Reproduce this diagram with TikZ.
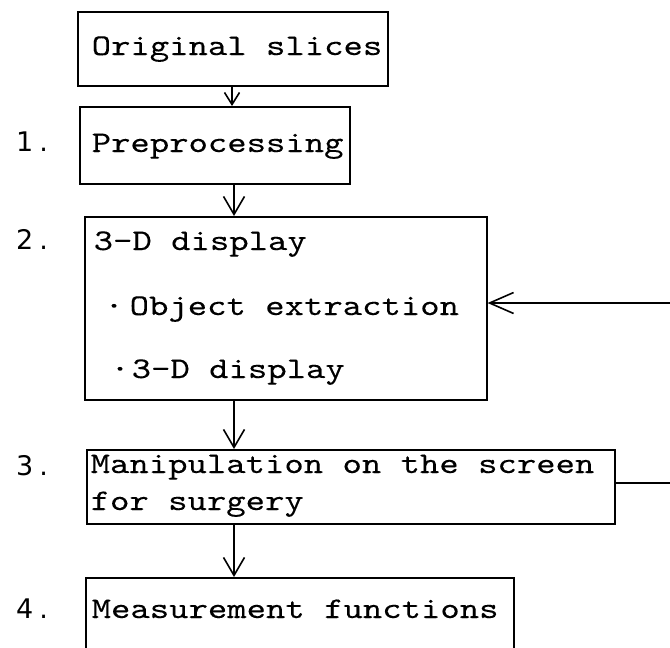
\documentclass[tikz,border=0pt]{standalone}
\usepackage{fontspec}
\usetikzlibrary{arrows.meta}
\newfontfamily\twfont[FakeStretch=1.23,FakeBold=0.12]{lmmono10-regular.otf}
\newfontfamily\numfont{DejaVu Sans}
\begin{document}
\begin{tikzpicture}[x=1pt,y=-1pt,
  box/.style={draw,line width=1.6pt,rectangle,inner sep=0pt,anchor=north west},
  txt/.style={anchor=base west,inner sep=0pt,font=\twfont\fontsize{30}{36}\selectfont},
  num/.style={anchor=base west,inner sep=0pt,font=\numfont\fontsize{27}{32}\selectfont},
  arrs/.style={line width=1.6pt,-{Straight Barb[length=12pt,width=15pt,line width=1.6pt]}},
  arrm/.style={line width=1.6pt,-{Straight Barb[length=18pt,width=21pt,line width=1.6pt]}},
  arrl/.style={line width=1.6pt,-{Straight Barb[length=24pt,width=21pt,line width=1.6pt]}}]
\clip (0,0) rectangle (670,648);
\fill[white] (0,0) rectangle (670,648);
% boxes
\node[box,minimum width=310pt,minimum height=74pt] (b0) at (77,11) {};
\node[box,minimum width=270pt,minimum height=77pt] (b1) at (79,106) {};
\node[box,minimum width=402pt,minimum height=183pt] (b2) at (84,216) {};
\node[box,minimum width=528pt,minimum height=74pt] (b3) at (86,449) {};
\node[box,minimum width=428pt,minimum height=110pt] (b4) at (85,577) {};
% texts
\node[txt] (t0) at (91.5,55) {Original slices};
\node[txt] (t1) at (91.5,152) {Preprocessing};
\node[txt] (t2a) at (93.5,250) {3-D display};
\node[txt] (t2b) at (129.5,315) {\llap{·\hspace{6pt}}Object extraction};
\node[txt] (t2c) at (131.5,378) {\llap{·\hspace{2pt}}3-D display};
\node[txt] (t3a) at (90.5,473) {Manipulation on the screen};
\node[txt] (t3b) at (90.5,510) {for surgery};
\node[txt] (t4) at (91.5,618) {Measurement functions};
% numbers
\node[num] (n1) at (16,151) {1\hspace{6pt}.};
\node[num] (n2) at (16,249) {2\hspace{6pt}.};
\node[num] (n3) at (16,475) {3\hspace{6pt}.};
\node[num] (n4) at (16,618) {4\hspace{6pt}.};
% connectors
\coordinate (ax) at (232,0);
\coordinate (bx) at (234,0);
\draw[arrs] (b0.south -| ax) -- (b1.north -| ax);
\draw[arrm] (b1.south -| bx) -- (b2.north -| bx);
\draw[arrm] (b2.south -| bx) -- (b3.north -| bx);
\draw[arrm] (b3.south -| bx) -- (b4.north -| bx);
\coordinate (e1) at (670,303);
\coordinate (e2) at (670,483);
\draw[arrl] (e1) -- (e1 -| b2.east);
\draw[line width=1.6pt] (e2 -| b3.east) -- (e2);
\end{tikzpicture}
\end{document}
